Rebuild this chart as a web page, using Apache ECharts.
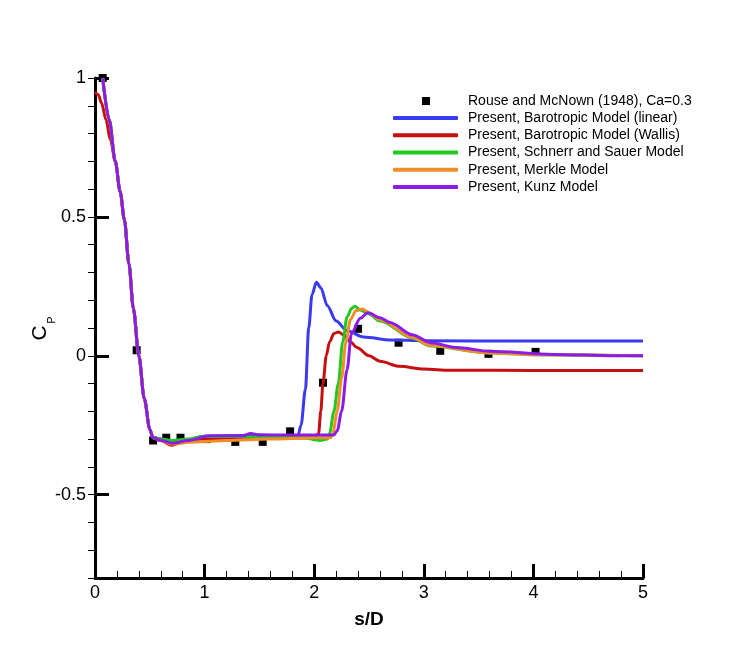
<!DOCTYPE html>
<html>
<head>
<meta charset="utf-8">
<script src="https://cdn.jsdelivr.net/npm/echarts@6/dist/echarts.min.js"></script>
<style>html,body{margin:0;padding:0;background:#fff}#c{width:731px;height:650px}</style>
</head>
<body>
<div id="c"></div>
<script>
// ---- data ----
const seriesNames = [
  'Rouse and McNown (1948), Ca=0.3',
  'Present, Barotropic Model (linear)',
  'Present, Barotropic Model (Wallis)',
  'Present, Schnerr and Sauer Model',
  'Present, Merkle Model',
  'Present, Kunz Model'
];
const xTicks = [0, 1, 2, 3, 4, 5];
const yTickLabels = [-0.5, 0, 0.5, 1];

const experiment = [[0.07,1.0],[0.38,0.02],[0.53,-0.305],[0.65,-0.295],[0.78,-0.295],[1.02,-0.30],[1.28,-0.31],[1.53,-0.31],[1.78,-0.272],[2.08,-0.097],[2.40,0.097],[2.77,0.047],[3.15,0.018],[3.59,0.007],[4.02,0.014]];

const descent = [[0.07,1.0],[0.13,0.85],[0.185,0.70],[0.23,0.59],[0.268,0.49],[0.31,0.33],[0.35,0.17],[0.40,0.0],[0.45,-0.155],[0.50,-0.265],[0.53,-0.295]];
const wallisStart = [[0.0,0.95],[0.03,0.94],[0.06,0.91],[0.10,0.85],[0.14,0.78],[0.185,0.70],[0.23,0.59],[0.268,0.49],[0.31,0.33],[0.35,0.17],[0.40,0.0],[0.45,-0.155],[0.50,-0.265],[0.53,-0.295]];

const linearRest = [[0.62,-0.30],[0.70,-0.31],[0.80,-0.305],[1.0,-0.29],[1.5,-0.285],[1.85,-0.29],[1.88,-0.25],[1.92,-0.12],[1.95,0.10],[1.98,0.22],[2.02,0.265],[2.06,0.245],[2.12,0.18],[2.20,0.125],[2.30,0.09],[2.45,0.068],[2.70,0.057],[3.0,0.054],[4.0,0.053],[5.0,0.053]];
const wallisRest = [[0.60,-0.305],[0.70,-0.322],[0.80,-0.31],[1.0,-0.30],[1.5,-0.298],[2.0,-0.295],[2.04,-0.28],[2.06,-0.20],[2.08,-0.10],[2.11,0.0],[2.14,0.05],[2.18,0.08],[2.22,0.086],[2.27,0.075],[2.33,0.05],[2.39,0.03],[2.50,0.0],[2.60,-0.02],[2.78,-0.038],[3.0,-0.048],[3.24,-0.052],[4.0,-0.053],[5.0,-0.053]];
const schnerrRest = [[0.60,-0.30],[0.70,-0.305],[0.85,-0.30],[1.0,-0.29],[1.5,-0.292],[1.9,-0.295],[2.05,-0.305],[2.12,-0.30],[2.14,-0.28],[2.18,-0.20],[2.22,-0.10],[2.26,0.05],[2.30,0.14],[2.34,0.17],[2.37,0.178],[2.42,0.165],[2.50,0.15],[2.60,0.125],[2.90,0.063],[3.06,0.035],[3.60,0.01],[4.0,0.004],[5.0,0.0]];
const merkleRest = [[0.60,-0.305],[0.70,-0.318],[0.90,-0.31],[1.2,-0.305],[1.6,-0.30],[2.0,-0.295],[2.15,-0.295],[2.17,-0.28],[2.21,-0.20],[2.25,-0.08],[2.29,0.05],[2.33,0.13],[2.38,0.162],[2.44,0.168],[2.50,0.155],[2.60,0.13],[2.90,0.065],[3.06,0.037],[3.60,0.01],[4.0,0.004],[5.0,0.0]];
const kunzRest = [[0.60,-0.305],[0.71,-0.315],[0.85,-0.305],[1.05,-0.288],[1.35,-0.288],[1.42,-0.28],[1.5,-0.285],[2.18,-0.285],[2.21,-0.27],[2.25,-0.20],[2.30,-0.05],[2.34,0.08],[2.42,0.135],[2.49,0.155],[2.60,0.137],[2.69,0.12],[2.90,0.075],[3.06,0.047],[3.30,0.03],[3.60,0.016],[4.18,0.005],[4.73,0.0],[5.0,0.0]];

const colors = ['#000000','#3a3aee','#c41010','#22c822','#f28c28','#8a1ce6'];

// ---- chart ----
const chart = echarts.init(document.getElementById('c'), null, {renderer:'canvas'});
const FONT = 'Liberation Sans, Arial, sans-serif';
const grid = {left:95, right:88, top:78, bottom:72};

function lineSeries(i, data){
  return {
    name: seriesNames[i], type:'line', data: data,
    xAxisIndex:0, yAxisIndex:0,
    symbol:'none', smooth:0.3, smoothMonotone:'x',
    lineStyle:{color:colors[i], width:3}, itemStyle:{color:colors[i]},
    z: 2 + i
  };
}

const option = {
  animation:false,
  backgroundColor:'#fff',
  grid: grid,
  xAxis: [{
    type:'value', min:0, max:5, interval:1,
    axisLine:{show:true, onZero:false, lineStyle:{color:'#000', width:3}},
    axisTick:{show:true, inside:true, length:14, lineStyle:{color:'#000', width:3}},
    minorTick:{show:true, splitNumber:5, length:7, lineStyle:{color:'#000', width:1}},
    axisLabel:{color:'#000', fontSize:18, fontFamily:FONT, margin:6,
      customValues: xTicks},
    splitLine:{show:false},
    name:'s/D', nameLocation:'middle', nameGap:32,
    nameTextStyle:{color:'#000', fontSize:19, fontWeight:'bold', fontFamily:FONT}
  }],
  yAxis: [{
    type:'value', min:-0.8, max:1,
    axisLine:{show:true, onZero:false, lineStyle:{color:'#000', width:3}},
    axisTick:{show:true, inside:true, length:14, lineStyle:{color:'#000', width:3},
      customValues: yTickLabels},
    axisLabel:{color:'#000', fontSize:18, fontFamily:FONT, margin:9,
      customValues: yTickLabels},
    splitLine:{show:false}
  },{
    type:'value', min:-0.8, max:1, interval:0.1,
    axisLine:{show:false},
    axisTick:{show:true, inside:true, length:7, lineStyle:{color:'#000', width:1}},
    axisLabel:{show:false},
    splitLine:{show:false}
  }],
  legend: [{
    orient:'vertical', left:417, top:87.5,
    itemWidth:8, itemHeight:8, itemGap:0,
    data:[{name:seriesNames[0], icon:'rect', itemStyle:{color:'#000', opacity:1}}],
    textStyle:{color:'#000', fontSize:14, lineHeight:17, fontFamily:FONT, padding:[0,0,0,33]},
    selectedMode:false
  },{
    orient:'vertical', left:388, top:104.5,
    itemWidth:65, itemHeight:4, itemGap:0.25,
    data: seriesNames.slice(1).map((n,k)=>({name:n, icon:'roundRect', itemStyle:{color:colors[k+1]}})),
    textStyle:{color:'#000', fontSize:14, lineHeight:17, fontFamily:FONT, padding:[0,0,0,5]},
    selectedMode:false
  }],
  graphic: [
    {type:'text', x:40, y:333, rotation:Math.PI/2,
     style:{text:'C', fontSize:21, fontFamily:FONT, fill:'#000', align:'center', verticalAlign:'middle'}},
    {type:'text', x:52, y:320, rotation:Math.PI/2,
     style:{text:'P', fontSize:11, fontFamily:FONT, fill:'#000', align:'center', verticalAlign:'middle'}}
  ],
  series: [
    lineSeries(1, descent.concat(linearRest)),
    lineSeries(2, wallisStart.concat(wallisRest)),
    lineSeries(3, descent.concat(schnerrRest)),
    lineSeries(4, descent.concat(merkleRest)),
    lineSeries(5, descent.concat(kunzRest)),
    {
      name: seriesNames[0], type:'scatter', data: experiment,
      symbol:'rect', symbolSize:8, itemStyle:{color:'#000', opacity:1}, z:1
    }
  ]
};
chart.setOption(option);
</script>
</body>
</html>
